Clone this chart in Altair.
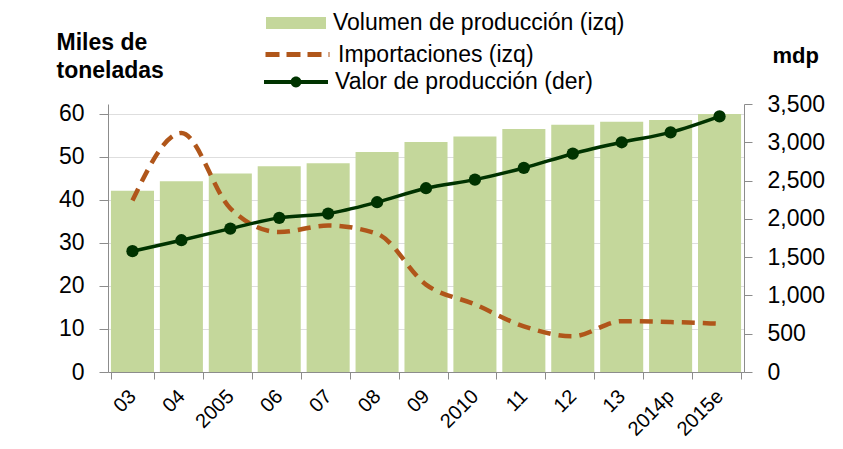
import altair as alt
import pandas as pd

years = ["03", "04", "2005", "06", "07", "08", "09", "2010", "11", "12", "13", "2014p", "2015e"]
volumen = [42.1, 44.3, 46.1, 47.8, 48.5, 51.1, 53.4, 54.7, 56.4, 57.4, 58.1, 58.5, 59.9]
importaciones = [39.8, 55.5, 38.0, 32.5, 34.0, 32.1, 20.3, 15.7, 10.6, 8.3, 11.8, 11.6, 11.2]
valor = [1578, 1721, 1873, 2013, 2069, 2217, 2400, 2512, 2665, 2851, 3000, 3129, 3338]

s_vol = "Volumen de producción (izq)"
s_imp = "Importaciones (izq)"
s_val = "Valor de producción (der)"

df = pd.DataFrame({"year": years, "volumen": volumen, "importaciones": importaciones,
                   "valor": valor, "s_vol": s_vol, "s_imp": s_imp, "s_val": s_val})

FONT = "Liberation Sans"
GREEN = "#c4d79b"
BROWN = "#b0561a"
DARK = "#003300"
AXC = "#8c8c8c"

xenc = alt.X("year:N", sort=years, title=None,
             scale=alt.Scale(paddingInner=0.12, paddingOuter=0.06),
             axis=alt.Axis(labelAngle=-45, labelAlign="right", labelBaseline="middle",
                           labelFontSize=20, labelColor="#000", labelFont=FONT,
                           tickBand="extent", tickSize=7, tickColor=AXC, domainColor=AXC,
                           labelPadding=14, labelOverlap=False))

yleft = alt.Scale(domain=[0, 62.23], nice=False, zero=True)
yright = alt.Scale(domain=[0, 3500], nice=False, zero=True)

left_axis = alt.Axis(values=[0, 10, 20, 30, 40, 50, 60], grid=True, gridColor="#dedede",
                     labelFontSize=23, labelFont=FONT, labelColor="#000", tickSize=9,
                     tickColor=AXC, domainColor=AXC, labelPadding=15, labelOverlap=False,
                     title=["Miles de", "toneladas"], titleAngle=0, titleAlign="left",
                     titleBaseline="top", titleX=-52, titleY=-73, titleFont=FONT,
                     titleFontSize=23, titleFontWeight="bold", titleLineHeight=28,
                     titleColor="#000")

right_axis = alt.Axis(values=[0, 500, 1000, 1500, 2000, 2500, 3000, 3500], grid=False,
                      orient="right", format=",.0f", labelFontSize=23, labelFont=FONT,
                      labelColor="#000", tickSize=8, tickColor=AXC, domainColor=AXC,
                      labelPadding=15, labelOverlap=False, title="mdp", titleAngle=0,
                      titleAlign="left", titleBaseline="middle", titleX=28, titleY=-49,
                      titleFont=FONT, titleFontSize=22, titleFontWeight="bold",
                      titleColor="#000")

base = alt.Chart(df)

bars = base.mark_bar(opacity=1).encode(
    x=xenc,
    y=alt.Y("volumen:Q", scale=yleft, axis=left_axis),
    color=alt.Color("s_vol:N", scale=alt.Scale(range=[GREEN]),
                    legend=alt.Legend(title=None, orient="none", legendX=157, legendY=-112,
                                      symbolType="M-1,-0.2H1V0.2H-1Z", symbolSize=3600,
                                      symbolOpacity=1, labelFont=FONT, labelFontSize=23,
                                      labelColor="#000", labelOffset=6, labelLimit=500)),
)

imp = base.mark_line(strokeWidth=4.5, strokeDash=[13, 8], interpolate="monotone").encode(
    x=xenc,
    y=alt.Y("importaciones:Q", scale=yleft, axis=left_axis),
    color=alt.Color("s_imp:N", scale=alt.Scale(range=[BROWN]),
                    legend=alt.Legend(title=None, orient="none", legendX=155, legendY=-84,
                                      symbolType="stroke", symbolSize=4096,
                                      symbolStrokeWidth=5, symbolDash=[14, 7],
                                      labelFont=FONT, labelFontSize=23, labelColor="#000",
                                      labelOffset=6, labelLimit=500)),
)

left = alt.layer(bars, imp).resolve_scale(color="independent")

val_line = base.mark_line(strokeWidth=3.5, color=DARK, interpolate="monotone").encode(
    x=xenc,
    y=alt.Y("valor:Q", scale=yright, axis=right_axis),
)
val_pts = base.mark_point(filled=True, size=150, opacity=1).encode(
    x=xenc,
    y=alt.Y("valor:Q", scale=yright, axis=right_axis),
    color=alt.Color("s_val:N", scale=alt.Scale(range=[DARK]),
                    legend=alt.Legend(title=None, orient="none", legendX=155, legendY=-55,
                                      symbolType="M-1,-0.06H1V0.06H-1Z M0.17,0A0.17,0.17,0,1,1,-0.17,0A0.17,0.17,0,1,1,0.17,0Z",
                                      symbolSize=4096, symbolOpacity=1,
                                      labelFont=FONT, labelFontSize=23, labelColor="#000",
                                      labelOffset=6, labelLimit=500)),
)
right = alt.layer(val_line, val_pts)

chart = alt.layer(left, right).resolve_scale(y="independent", color="independent").properties(
    width=636, height=268,
    autosize=alt.AutoSizeParams(type="none"),
    padding={"left": 100, "top": 96, "right": 90, "bottom": 69},
).configure_view(stroke=None).configure_axis(labelFont=FONT)

chart.save("out.html", embed_options={"renderer": "svg", "actions": False})
